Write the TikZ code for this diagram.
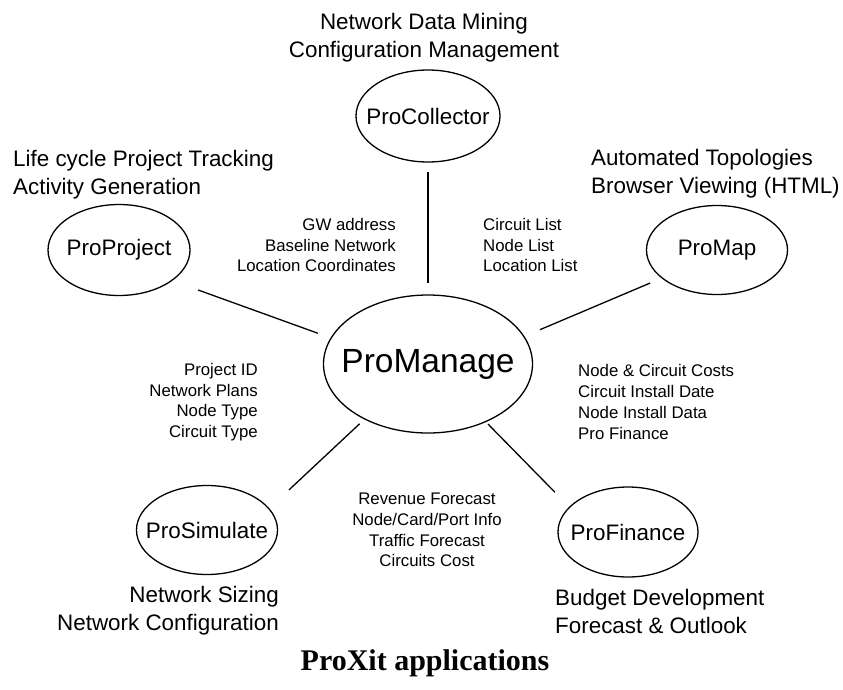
\documentclass[tikz,border=0pt]{standalone}
\usepackage{fontspec}
\setsansfont{Liberation Sans}
\newfontfamily\captionserif{Liberation Serif}
\usepackage{tikz}
\usetikzlibrary{shapes.geometric, positioning, calc}

\begin{document}
\begin{tikzpicture}[x=1pt, y=-1pt, font=\sffamily,
    app/.style={ellipse, draw=black, line width=1.3pt, inner sep=0pt, outer sep=0pt,
      font=\sffamily\fontsize{22.4}{28}\selectfont},
    bigtext/.style={inner sep=0pt, font=\sffamily\fontsize{22.4}{28}\selectfont},
    flowtext/.style={inner sep=0pt, font=\sffamily\fontsize{16.8}{20.7}\selectfont},
    link/.style={draw=black, line width=1.3pt}]

    \useasboundingbox (0,0) rectangle (843,689);

    % applications
    \node (pc) [app, minimum width=144pt, minimum height=92pt] at (428,116) {\makebox[0pt]{ProCollector}};
    \node (pp) [app, minimum width=142pt, minimum height=91pt] at (119,250) {\makebox[0pt]{ProProject}};
    \node (pmap) [app, minimum width=141pt, minimum height=89pt] at (717,250) {\makebox[0pt]{ProMap}};
    \node (pm) [app, minimum width=209pt, minimum height=138pt, font=\sffamily\fontsize{33.5}{40}\selectfont] at (428,364) {\makebox[0pt]{ProManage}};
    \node (ps) [app, minimum width=141pt, minimum height=89pt] at (207,530) {\makebox[0pt]{ProSimulate}};
    \node (pf) [app, minimum width=140pt, minimum height=90pt] at (628,532) {\makebox[0pt]{ProFinance}};

    % what each application does
    \node (pcinfo) [bigtext, align=center] at (424,38) {Network Data Mining\\Configuration Management};
    \node (ppinfo) [bigtext, align=left, anchor=west] at (13,175) {Life cycle Project Tracking\\Activity Generation};
    \node (pmapinfo) [bigtext, align=left, anchor=west] at (591,174) {Automated Topologies\\Browser Viewing (HTML)};
    \node (psinfo) [bigtext, align=right, anchor=east] at (279,611) {Network Sizing\\Network Configuration};
    \node (pfinfo) [bigtext, align=left, anchor=west] at (555,611) {Budget Development\\Forecast \& Outlook};

    % data exchanged with ProManage
    \node (pcin) [flowtext, align=right, anchor=east] at (396,245) {GW address\\Baseline Network\\Location Coordinates};
    \node (pcout) [flowtext, align=left, anchor=west] at (483,245) {Circuit List\\Node List\\Location List};
    \node (ppdata) [flowtext, align=right, anchor=east] at (258,402) {Project ID\\Network Plans\\Node Type\\Circuit Type};
    \node (pfdata) [flowtext, align=left, anchor=west] at (578,402) {Node \& Circuit Costs\\Circuit Install Date\\Node Install Data\\Pro Finance};
    \node (psdata) [flowtext, align=center] at (427,530) {Revenue Forecast\\Node/Card/Port Info\\Traffic Forecast\\Circuits Cost};

    \node (caption) [inner sep=0pt, font=\captionserif\bfseries\fontsize{30}{36}\selectfont] at (425,663) {ProXit applications};

    \foreach \from/\to/\sa/\sb in {pc.south/pm.north/10/12, pp.-30/pm.165/28/14, pmap.207/pm.16/13/17.5,
        ps.19/pm.221/27.5/7, pf.157/pm.-45/21/3.5} {
      \draw [link, shorten <=\sa pt, shorten >=\sb pt] (\from) -- (\to);
    }
\end{tikzpicture}
\end{document}
